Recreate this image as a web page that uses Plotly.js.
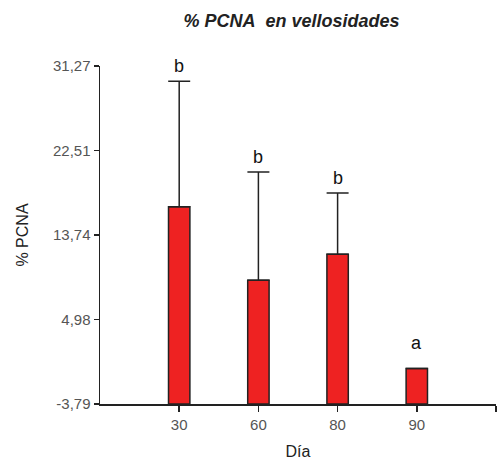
<!DOCTYPE html>
<html>
<head>
<meta charset="utf-8">
<script src="https://cdn.plot.ly/plotly-3.0.1.min.js"></script>
<style>html,body{margin:0;padding:0;background:#fff;}#chart{width:499px;height:462px;}</style>
</head>
<body>
<div id="chart"></div>
<script>
const days = ['30', '60', '80', '90'];
const pcna = [16.68, 9.04, 11.74, -0.1];
const errUp = [13.0, 11.24, 6.36, 0];
const letters = ['b', 'b', 'b', 'a'];
const yTickVals = [-3.79, 4.98, 13.74, 22.51, 31.27];
const yTickText = ['-3,79', '4,98', '13,74', '22,51', '31,27'];

const yMin = yTickVals[0];
const yMax = yTickVals[yTickVals.length - 1];
const xPos = days.map((d, i) => i + 1);

const trace = {
  type: 'bar',
  x: xPos,
  y: pcna.map(v => v - yMin),
  base: yMin,
  width: 0.27,
  marker: {color: '#EE2222', line: {color: '#222222', width: 1.5}},
  error_y: {type: 'data', symmetric: false, array: errUp, arrayminus: days.map(() => 0),
            visible: true, color: '#222222', thickness: 1.5, width: 11},
  hoverinfo: 'skip'
};

const annotations = days.map((d, i) => ({
  x: xPos[i], y: pcna[i] + errUp[i], xref: 'x', yref: 'y',
  text: letters[i], showarrow: false, yanchor: 'bottom',
  yshift: errUp[i] > 0 ? 3 : 13,
  font: {family: 'Liberation Sans, Arial, sans-serif', size: 18, color: '#111'}
}));

const layout = {
  width: 499, height: 462,
  margin: {l: 100, r: 3, t: 66, b: 58},
  paper_bgcolor: '#fff', plot_bgcolor: '#fff',
  showlegend: false,
  title: {text: '% PCNA\u00a0 en vellosidades', x: 291.5 / 499, xanchor: 'center', xref: 'container',
          y: 1 - 21/462, yref: 'container', yanchor: 'middle',
          font: {family: 'Liberation Sans, Arial, sans-serif', size: 18, color: '#222', weight: 'bold', style: 'italic'}},
  xaxis: {range: [0, xPos.length + 1], tickvals: xPos.concat([xPos.length + 1]), ticktext: days.concat(['']),
          showline: true, linecolor: '#222', linewidth: 1.5, ticks: 'outside', ticklen: 6, tickwidth: 1.5, tickcolor: '#222',
          showgrid: false, zeroline: false,
          tickfont: {family: 'Liberation Sans, Arial, sans-serif', size: 15, color: '#555'},
          title: {text: 'Día', standoff: 14, font: {family: 'Liberation Sans, Arial, sans-serif', size: 16, color: '#222'}}},
  yaxis: {range: [yMin, yMax], tickvals: yTickVals, ticktext: yTickText,
          showline: true, linecolor: '#222', linewidth: 1.5, ticks: 'outside', ticklen: 5, tickwidth: 1.5, tickcolor: '#222',
          showgrid: false, zeroline: false,
          tickfont: {family: 'Liberation Sans, Arial, sans-serif', size: 15, color: '#555'},
          title: {text: '% PCNA', standoff: 20, font: {family: 'Liberation Sans, Arial, sans-serif', size: 16, color: '#222'}}},
  annotations: annotations
};

Plotly.newPlot('chart', [trace], layout, {displayModeBar: false, staticPlot: true});
</script>
</body>
</html>
